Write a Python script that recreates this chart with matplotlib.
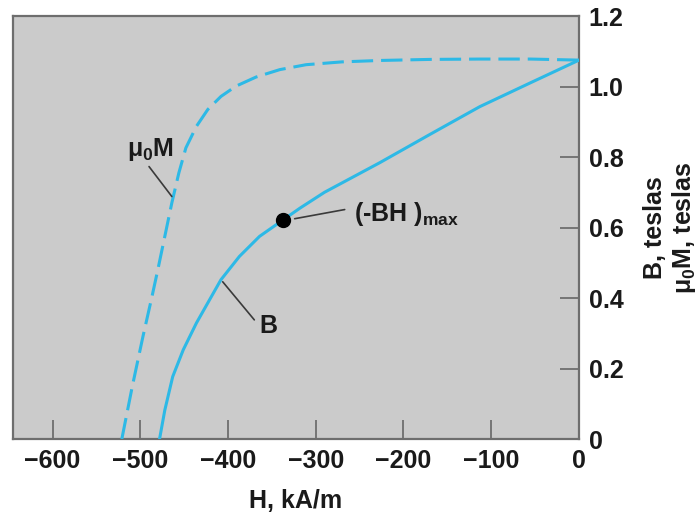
import matplotlib
matplotlib.use("Agg")
import matplotlib.pyplot as plt

plt.rcParams["font.family"] = ["Liberation Sans", "DejaVu Sans"]
plt.rcParams["font.weight"] = "bold"
plt.rcParams["axes.labelweight"] = "bold"
plt.rcParams["mathtext.fontset"] = "custom"
plt.rcParams["mathtext.rm"] = "Liberation Sans:bold"
plt.rcParams["mathtext.it"] = "Liberation Sans:bold"
plt.rcParams["mathtext.sf"] = "Liberation Sans"

BG = "#CBCBCB"
CYAN = "#2DB9E6"
SPINE = "#6E6E6E"
INK = "#1A1A1A"

# demagnetisation curve B(H), kA/m vs teslas
h_b = [-478, -472, -463, -451, -436, -421, -408, -387, -364, -337,
       -318, -290, -227, -170, -113, -55, 0]
b_val = [0.0, 0.082, 0.177, 0.253, 0.329, 0.395, 0.452, 0.518, 0.575, 0.622,
         0.655, 0.700, 0.784, 0.864, 0.943, 1.011, 1.075]

# intrinsic curve mu0*M(H)
h_m = [-521, -509, -497, -487, -480, -472, -464, -456, -448, -436, -423,
       -408, -391, -368, -341, -311, -270, -227, -170, -113, -55, 0]
m_val = [0.0, 0.150, 0.290, 0.400, 0.480, 0.575, 0.670, 0.755, 0.826, 0.887, 0.935,
         0.972, 1.001, 1.027, 1.048, 1.062, 1.070, 1.074, 1.077, 1.078, 1.078, 1.075]

# (-BH)max point
bh_h, bh_b = -337, 0.622

x_ticks = [-600, -500, -400, -300, -200, -100, 0]
y_ticks = [0, 0.2, 0.4, 0.6, 0.8, 1.0, 1.2]
y_labels = ["0", "0.2", "0.4", "0.6", "0.8", "1.0", "1.2"]

fig = plt.figure(figsize=(7, 5.18), dpi=100)
ax = fig.add_axes([0.0186, 0.1525, 0.8085, 0.8165])
ax.set_facecolor(BG)

ax.plot(h_m, m_val, color=CYAN, lw=2.2, dashes=(7, 2.6), solid_capstyle="butt", zorder=3)
ax.plot(h_b, b_val, color=CYAN, lw=2.2, zorder=3)
ax.plot([bh_h], [bh_b], "o", color="black", ms=10, zorder=5)

# labels with leader lines
lead = dict(arrowstyle="-", color="#3A3A3A", lw=1.2, shrinkA=0, shrinkB=0)
ax.annotate("", xy=(-464, 0.688), xytext=(-490, 0.773), arrowprops=lead)
ax.text(-488, 0.821, "μ$_0$M", fontsize=18, ha="center", va="center", color=INK)
ax.annotate("", xy=(-406, 0.446), xytext=(-370, 0.338), arrowprops=lead)
ax.text(-354, 0.322, "B", fontsize=18, ha="center", va="center", color=INK)
ax.annotate("", xy=(-324, 0.625), xytext=(-267, 0.651), arrowprops=lead)
ax.text(-256, 0.638, "(-BH )$_{\\mathsf{max}}$", fontsize=18, ha="left", va="center", color=INK)

ax.set_xlim(-645, 0)
ax.set_ylim(0, 1.2)
ax.set_xticks(x_ticks)
ax.set_yticks(y_ticks)
ax.set_yticklabels(y_labels)
ax.yaxis.tick_right()
ax.yaxis.set_label_position("right")
ax.tick_params(direction="in", length=14, width=1.3, color=SPINE,
               labelsize=18, labelcolor=INK)
ax.tick_params(axis="x", pad=7)
ax.tick_params(axis="y", pad=7)
for sp in ax.spines.values():
    sp.set_color(SPINE)
    sp.set_linewidth(1.6)

ax.set_xlabel("H, kA/m", fontsize=18, color=INK, labelpad=12)
ax.set_ylabel("B, teslas\nμ$_0$M, teslas", fontsize=18, color=INK,
              rotation=90, labelpad=14, linespacing=1.15)

fig.savefig("out.png", dpi=100, facecolor="white")
